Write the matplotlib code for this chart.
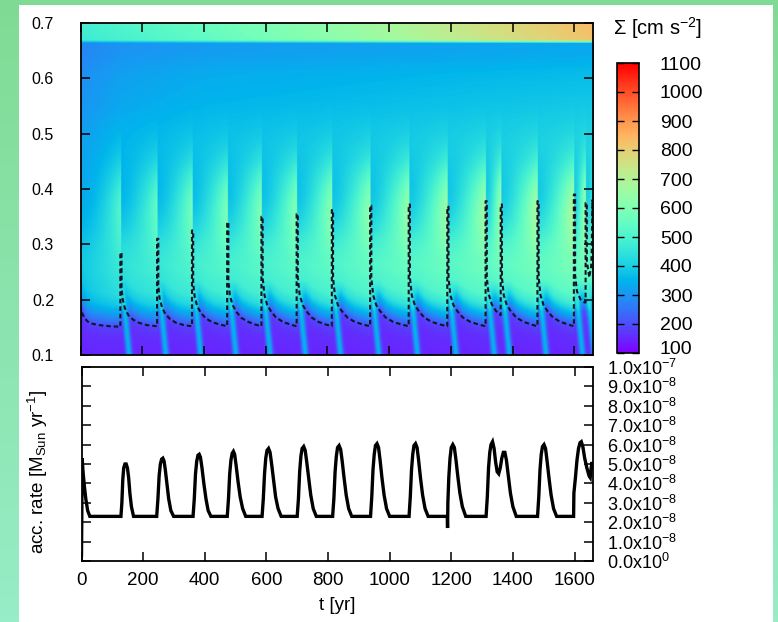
import numpy as np
import matplotlib
matplotlib.use('Agg')
import matplotlib.pyplot as plt
from matplotlib import font_manager
from matplotlib.patches import Rectangle
from matplotlib.transforms import ScaledTranslation

# ---------------- data ----------------
# burst (dashed-spike) times [yr]
burst_t = [129, 248, 361, 475, 586, 700, 814, 938, 1063, 1188, 1312, 1361, 1480, 1598, 1636]

# radial profile of Sigma (background), early and late
prof_r     = [0.10, 0.13, 0.148, 0.16, 0.175, 0.19, 0.21, 0.25, 0.30, 0.36, 0.45, 0.55, 0.61, 0.645, 0.664, 0.672, 0.70]
prof_early = [150, 160, 180, 245, 300, 350, 380, 395, 390, 370, 335, 300, 290, 280, 280, 280, 280]
prof_late  = [150, 160, 185, 265, 370, 470, 540, 570, 560, 520, 440, 390, 365, 335, 330, 330, 330]
prof_time   = [0, 130, 400, 1660]
prof_weight = [0.0, 0.35, 0.6, 1.0]
# outer band (r > 0.668) values versus time
band_time = [0, 400, 900, 1300, 1660]
band_val  = [470, 540, 640, 740, 820]

# dashed contour line in the upper panel
dash_t = [0, 3, 8, 15, 22, 35, 60, 95, 129,
          129, 133, 133, 137, 144, 155, 170, 190, 215, 248,
          248, 252, 252, 256, 264, 275, 290, 310, 335, 361,
          361, 365, 365, 370, 378, 390, 406, 428, 452, 475,
          475, 479, 479, 484, 493, 505, 521, 543, 566, 586,
          586, 590, 590, 596, 605, 617, 633, 655, 680, 700,
          700, 704, 704, 710, 720, 732, 748, 770, 795, 814,
          814, 818, 818, 824, 834, 847, 864, 888, 915, 938,
          938, 942, 942, 948, 958, 971, 988, 1012, 1040, 1063,
          1063, 1067, 1067, 1073, 1083, 1096, 1113, 1137, 1165, 1188,
          1188, 1192, 1192, 1198, 1208, 1221, 1238, 1262, 1290, 1312,
          1312, 1316, 1316, 1322, 1332, 1345, 1361,
          1361, 1365, 1365, 1371, 1381, 1394, 1411, 1435, 1460, 1480,
          1480, 1484, 1484, 1490, 1500, 1513, 1530, 1554, 1580, 1598,
          1598, 1602, 1602, 1608, 1620, 1632, 1636,
          1636, 1640, 1640, 1648, 1654, 1656, 1658, 1660]
dash_r = [0.19, 0.18, 0.172, 0.166, 0.161, 0.157, 0.154, 0.152, 0.151,
          0.285, 0.285, 0.22, 0.2, 0.184, 0.172, 0.164, 0.158, 0.154, 0.152,
          0.31, 0.31, 0.225, 0.203, 0.186, 0.174, 0.165, 0.158, 0.154, 0.152,
          0.325, 0.325, 0.23, 0.205, 0.188, 0.176, 0.166, 0.159, 0.155, 0.152,
          0.34, 0.34, 0.235, 0.207, 0.19, 0.178, 0.167, 0.16, 0.155, 0.152,
          0.35, 0.35, 0.24, 0.208, 0.19, 0.179, 0.168, 0.16, 0.155, 0.152,
          0.355, 0.355, 0.24, 0.208, 0.19, 0.179, 0.168, 0.16, 0.155, 0.152,
          0.362, 0.362, 0.24, 0.208, 0.19, 0.179, 0.168, 0.16, 0.155, 0.152,
          0.37, 0.37, 0.24, 0.208, 0.19, 0.179, 0.168, 0.16, 0.155, 0.152,
          0.372, 0.372, 0.24, 0.208, 0.19, 0.179, 0.168, 0.16, 0.155, 0.152,
          0.368, 0.368, 0.24, 0.208, 0.19, 0.179, 0.168, 0.16, 0.155, 0.152,
          0.378, 0.378, 0.24, 0.21, 0.192, 0.18, 0.172,
          0.372, 0.372, 0.24, 0.208, 0.19, 0.179, 0.168, 0.16, 0.155, 0.152,
          0.378, 0.378, 0.24, 0.208, 0.19, 0.179, 0.168, 0.16, 0.155, 0.152,
          0.39, 0.39, 0.245, 0.215, 0.2, 0.195, 0.195,
          0.375, 0.375, 0.27, 0.24, 0.26, 0.29, 0.38, 0.33]

# accretion rate [1e-8 Msun/yr]
acc_t = [0, 1, 2, 5, 9, 14, 20, 27,
         128, 131, 134, 137, 141, 145, 149, 153, 157, 162, 169,
         244, 248, 252, 256, 260, 264, 268, 272, 277, 283, 290, 299,
         362, 366, 370, 374, 378, 382, 386, 391, 397, 404, 411, 420,
         473, 477, 481, 485, 489, 493, 497, 502, 508, 515, 523, 533,
         586, 590, 594, 598, 602, 607, 612, 617, 623, 630, 638, 648,
         700, 704, 708, 712, 716, 721, 726, 731, 737, 744, 752, 762,
         815, 819, 823, 827, 831, 836, 841, 846, 852, 859, 867, 877,
         938, 942, 946, 950, 954, 959, 964, 969, 975, 982, 990, 1000,
         1063, 1067, 1071, 1075, 1079, 1084, 1089, 1094, 1100, 1107, 1115, 1125,
         1187, 1188, 1189, 1192, 1196, 1200, 1205, 1210, 1215, 1221, 1228, 1236, 1247,
         1313, 1317, 1321, 1325, 1329, 1334, 1339, 1344, 1349, 1354, 1359, 1364, 1369, 1374, 1379, 1385, 1392, 1400, 1411,
         1480, 1484, 1488, 1492, 1496, 1501, 1506, 1511, 1517, 1524, 1532, 1542,
         1597, 1598, 1603, 1608, 1613, 1618, 1622, 1627, 1633, 1640, 1647, 1651, 1654, 1657, 1660]
acc_v = [0.3, 2.3, 5.3, 4.6, 3.9, 3.2, 2.6, 2.3,
         2.3, 3.0, 4.2, 4.8, 5.0, 5.0, 4.8, 4.3, 3.5, 2.8, 2.3,
         2.3, 3.2, 4.4, 5.0, 5.25, 5.3, 5.15, 4.7, 4.0, 3.2, 2.6, 2.3,
         2.3, 3.2, 4.5, 5.15, 5.45, 5.5, 5.35, 4.8, 4.0, 3.2, 2.6, 2.3,
         2.3, 3.2, 4.5, 5.2, 5.55, 5.65, 5.5, 4.9, 4.1, 3.3, 2.7, 2.3,
         2.3, 3.2, 4.5, 5.3, 5.7, 5.8, 5.6, 5.0, 4.2, 3.3, 2.7, 2.3,
         2.3, 3.2, 4.6, 5.4, 5.8, 5.9, 5.7, 5.1, 4.3, 3.4, 2.7, 2.3,
         2.3, 3.2, 4.6, 5.4, 5.85, 5.95, 5.75, 5.15, 4.3, 3.4, 2.7, 2.3,
         2.3, 3.3, 4.7, 5.5, 5.95, 6.05, 5.85, 5.2, 4.3, 3.4, 2.7, 2.3,
         2.3, 3.3, 4.7, 5.5, 5.95, 6.05, 5.85, 5.2, 4.3, 3.4, 2.7, 2.3,
         2.3, 1.7, 3.0, 4.3, 5.3, 5.85, 6.0, 5.85, 5.25, 4.4, 3.5, 2.8, 2.3,
         2.3, 3.3, 4.8, 5.6, 6.0, 6.15, 5.8, 5.1, 4.6, 4.5, 4.8, 5.3, 5.6, 5.6, 5.2, 4.4, 3.5, 2.8, 2.3,
         2.3, 3.3, 4.7, 5.5, 5.9, 6.0, 5.8, 5.15, 4.3, 3.4, 2.7, 2.3,
         2.3, 3.5, 4.3, 5.2, 5.8, 6.1, 6.15, 5.9, 5.3, 4.8, 4.4, 4.3, 4.8, 5.1, 4.8]

t_ticks = [0, 200, 400, 600, 800, 1000, 1200, 1400, 1600]
r_ticks = [0.1, 0.2, 0.3, 0.4, 0.5, 0.6, 0.7]
cb_ticks = [100, 200, 300, 400, 500, 600, 700, 800, 900, 1000, 1100]
acc_ticks = [0, 1, 2, 3, 4, 5, 6, 7, 8, 9, 10]
acc_tick_labels = ['0.0x10$^{0}$', '1.0x10$^{-8}$', '2.0x10$^{-8}$', '3.0x10$^{-8}$',
                   '4.0x10$^{-8}$', '5.0x10$^{-8}$', '6.0x10$^{-8}$', '7.0x10$^{-8}$',
                   '8.0x10$^{-8}$', '9.0x10$^{-8}$', '1.0x10$^{-7}$']

# ---------------- fonts ----------------
names = {f.name for f in font_manager.fontManager.ttflist}
font = 'Liberation Sans Narrow' if 'Liberation Sans Narrow' in names else 'Liberation Sans'
plt.rcParams['font.family'] = [font, 'DejaVu Sans']
plt.rcParams['mathtext.fontset'] = 'custom'
plt.rcParams['mathtext.rm'] = font
plt.rcParams['mathtext.it'] = font
plt.rcParams['mathtext.bf'] = font
FS_L = 11.5   # left tick labels of the map
FS = 13.5     # other texts

W, H = 778, 622
fig = plt.figure(figsize=(W / 100, H / 100), dpi=100)

# background: green gradient frame with white panel
bg = fig.add_axes([0, 0, 1, 1], zorder=-10)
top_c = np.array([0.50, 0.86, 0.58])
bot_c = np.array([0.59, 0.93, 0.78])
grad = np.linspace(0, 1, 200)[:, None, None] * (bot_c - top_c) + top_c
grad = np.repeat(grad, 2, axis=1)
bg.imshow(grad, extent=[0, 1, 0, 1], aspect='auto', origin='upper')
bg.add_patch(Rectangle((19 / W, 0), (773 - 19) / W, 1 - 5 / H, color='white', lw=0))
bg.set_xlim(0, 1); bg.set_ylim(0, 1); bg.axis('off')

def fx(px):
    return px / W

def fy(py):
    return 1 - py / H

# ---------------- build Sigma map ----------------
t = np.linspace(0, 1660, 831)
r = np.linspace(0.1, 0.7, 301)
T, R = np.meshgrid(t, r)
w = np.interp(T, prof_time, prof_weight)
shift = np.clip(np.interp(t, dash_t, dash_r) - 0.152, 0, 0.03)[None, :]
taper = np.clip((0.32 - R) / 0.1, 0, 1)
Reff = R - shift * taper
S = (1 - w) * np.interp(Reff, prof_r, prof_early) + w * np.interp(Reff, prof_r, prof_late)
# outer band
band = np.interp(T, band_time, band_val)
bmask = np.clip((R - 0.664) / 0.006, 0, 1)
S = S * (1 - bmask) + (band + (R - 0.67) * 600) * bmask
# cyan streaks at small radii just after bursts
for tb in burst_t:
    c = tb + 8 + (0.2 - R) * 180
    S += 200 * np.exp(-((T - c) / 10.0) ** 2) * np.clip((0.225 - R) / 0.04, 0, 1)
# saw-tooth build-up of mass around r~0.37 between bursts
edges = [0] + burst_t + [1700]
phase = np.zeros_like(T)
for a, b in zip(edges[:-1], edges[1:]):
    m = (T >= a) & (T < b)
    phase[m] = (T[m] - a) / (b - a)
amp = 80 + 220 * w
S += amp * (phase ** 1.5 - 0.35) * np.exp(-((R - 0.37) / 0.08) ** 2)
S = np.clip(S, 100, 1100)

# ---------------- upper panel ----------------
ax1 = fig.add_axes([fx(80.5), fy(355), fx(593) - fx(80.5), fy(23) - fy(355)])
im = ax1.imshow(S, origin='lower', extent=[0, 1660, 0.1, 0.7], aspect='auto',
                cmap='rainbow', vmin=100, vmax=1100, interpolation='bilinear')
ax1.plot(dash_t, dash_r, color='#15152a', lw=1.5, ls=(0, (2.2, 1.4)))
ax1.set_xlim(0, 1660)
ax1.set_ylim(0.1, 0.7)
ax1.set_xticks(t_ticks)
ax1.set_yticks(r_ticks)
ax1.set_yticklabels(['%.1f' % v for v in r_ticks])
ax1.tick_params(direction='in', length=6.5, width=1.1, top=True, right=True,
                labelbottom=False, labelsize=FS_L, color='black')
ax1.tick_params(axis='y', pad=19)
for s in ax1.spines.values():
    s.set_linewidth(1.3)

# colorbar
cax = fig.add_axes([fx(617), fy(353), fx(639) - fx(617), fy(63) - fy(353)])
cb = fig.colorbar(im, cax=cax, ticks=cb_ticks)
cb.outline.set_linewidth(1.2)
cax.tick_params(direction='in', left=True, right=True, length=5, width=1,
                labelsize=14, pad=15)
cax.set_yticklabels([str(v) for v in cb_ticks])
lab0 = cax.get_yticklabels()[0]
lab0.set_transform(lab0.get_transform() + ScaledTranslation(0, 4 / 72, fig.dpi_scale_trans))
fig.text(fx(613), fy(28), r'$\Sigma$ [cm s$^{-2}$]', fontsize=14.5, ha='left', va='center')

# ---------------- lower panel ----------------
ax2 = fig.add_axes([fx(81.5), fy(561), fx(593) - fx(81.5), fy(367) - fy(561)])
ax2.plot(acc_t, acc_v, color='black', lw=2.4, solid_joinstyle='miter')
ax2.set_xlim(0, 1660)
ax2.set_ylim(0, 10)
ax2.set_xticks(t_ticks)
ax2.set_xticklabels([str(v) for v in t_ticks])
ax2.set_yticks(acc_ticks)
ax2.set_yticklabels(acc_tick_labels)
ax2.tick_params(direction='in', length=6.5, width=1.1, top=True, right=True, left=True,
                labelleft=False, labelright=True, labelsize=FS)
ax2.tick_params(axis='y', pad=10, labelsize=13)
ax2.tick_params(axis='x', pad=8)
for s in ax2.spines.values():
    s.set_linewidth(1.3)
ax2.set_ylabel(r'acc. rate [M$_{\rm Sun}$ yr$^{-1}$]', fontsize=FS)
ax2.yaxis.set_label_coords(-0.062, 0.46)
fig.text(fx(337), fy(605), 't [yr]', fontsize=FS, ha='center', va='center')

fig.savefig('out.png', dpi=100)
